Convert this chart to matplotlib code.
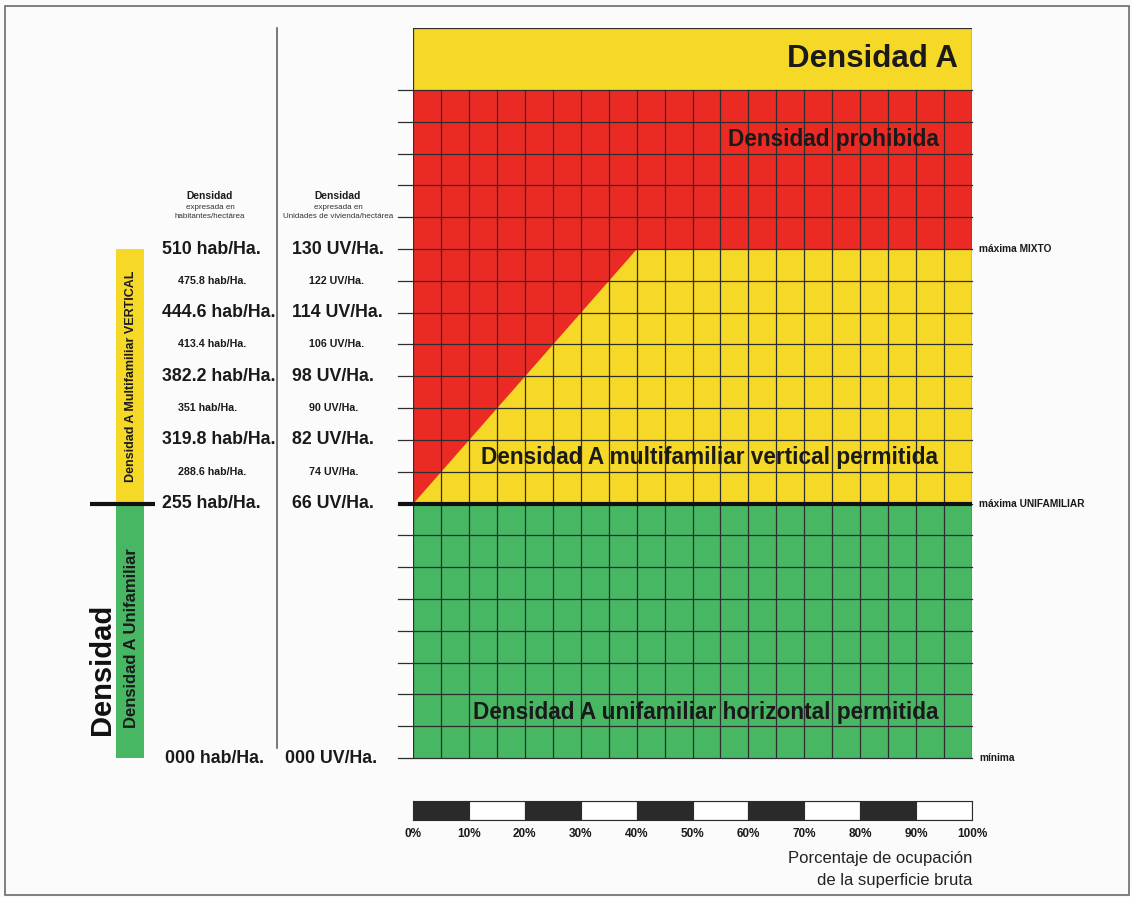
import numpy as np
import matplotlib.pyplot as plt
from matplotlib.lines import Line2D
from matplotlib.patches import Rectangle
from matplotlib import transforms

# --- datos -----------------------------------------------------------------
pct_ticks = np.arange(0, 101, 10)          # escala de ocupación
col_edges = np.arange(0, 101, 5)           # columnas de la retícula
uv_levels = [130, 122, 114, 106, 98, 90, 82, 74, 66]
hab_levels = [510, 475.8, 444.6, 413.4, 382.2, 351, 319.8, 288.6, 255]
uv_unifam = 66        # máxima UNIFAMILIAR
uv_mixto = 130        # máxima MIXTO
uv_top = 170          # límite superior de la retícula
pct_break = 40        # ocupación donde se alcanza la máxima MIXTO
unifam_rows = 8       # filas entre 0 y 66 UV/Ha.
uv_step = 8           # UV/Ha. por fila sobre 66

W, H = 1132, 897
yellow = '#f6d827'
red = '#eb2a24'
green = '#47b764'
grid_c = '#2e2e2e'
ink = '#1a1a1a'
plt.rcParams['font.family'] = ['Liberation Sans', 'DejaVu Sans']


def fwd(v):
    v = np.asarray(v, dtype=float)
    return np.where(v <= uv_unifam, v * unifam_rows / uv_unifam,
                    unifam_rows + (v - uv_unifam) / uv_step)


def inv(r):
    r = np.asarray(r, dtype=float)
    return np.where(r <= unifam_rows, r * uv_unifam / unifam_rows,
                    uv_unifam + (r - unifam_rows) * uv_step)


def fx(x):
    return x / W


def fy(y):
    return 1 - y / H


fig = plt.figure(figsize=(W / 100, H / 100), dpi=100)
fig.patch.set_facecolor('#fbfbfb')
fig.add_artist(Rectangle((fx(5), fy(895)), fx(1129) - fx(5), fy(6) - fy(895),
                         transform=fig.transFigure, fill=False,
                         edgecolor='#6a6a6a', lw=1.2))

ax = fig.add_axes([fx(413), fy(758), fx(972) - fx(413), fy(28) - fy(758)])
ax.set_yscale('function', functions=(fwd, inv))
header_top = float(inv(fwd(uv_top) + 1.95))
ax.set_xlim(0, 100)
ax.set_ylim(0, header_top)
ax.axis('off')

# zonas
ax.fill([0, 100, 100, 0], [0, 0, uv_unifam, uv_unifam], color=green, lw=0)
ax.fill([0, pct_break, 100, 100], [uv_unifam, uv_mixto, uv_mixto, uv_unifam],
        color=yellow, lw=0)
ax.fill([0, 0, 100, 100, pct_break],
        [uv_unifam, uv_top, uv_top, uv_mixto, uv_mixto], color=red, lw=0)
ax.fill([0, 100, 100, 0], [uv_top, uv_top, header_top, header_top],
        color=yellow, lw=0)
ax.plot([0, 0, 100, 100], [uv_top, header_top, header_top, uv_top],
        color=grid_c, lw=0.9)

# retícula
rows = np.concatenate([np.linspace(0, uv_unifam, unifam_rows + 1),
                       np.arange(uv_unifam + uv_step, uv_top + 1, uv_step)])
for x in col_edges:
    ax.plot([x, x], [0, uv_top], color=grid_c, lw=0.9)
for y in rows:
    ax.plot([-2.7, 100], [y, y], color=grid_c, lw=0.9, clip_on=False)
ax.plot([-2.7, 100], [uv_unifam, uv_unifam], color='#111111', lw=3,
        clip_on=False, solid_capstyle='butt')

# textos dentro de la retícula
ax.text(97.5, (uv_top + header_top) / 2, 'Densidad A', ha='right', va='center',
        fontsize=22.5, fontweight='bold', color=ink)
ax.text(94, 157.5, 'Densidad prohibida', ha='right', va='center',
        fontsize=16.3, fontweight='bold', color=ink)
ax.text(94, 77.5, 'Densidad A multifamiliar vertical permitida', ha='right',
        va='center', fontsize=16.3, fontweight='bold', color=ink)
ax.text(94, 11.9, 'Densidad A unifamiliar horizontal permitida', ha='right',
        va='center', fontsize=16.3, fontweight='bold', color=ink)

# etiquetas a la derecha
for y, lab in [(uv_mixto, 'máxima MIXTO'), (uv_unifam, 'máxima UNIFAMILIAR'),
               (0, 'mínima')]:
    ax.text(101.3, y, lab, ha='left', va='center', fontsize=7.3,
            fontweight='bold', color=ink, clip_on=False)

# columna izquierda (x en figura, y en datos)
blend = transforms.blended_transform_factory(fig.transFigure, ax.transData)
for i, (uv, hab) in enumerate(zip(uv_levels, hab_levels)):
    big = i % 2 == 0
    fs = 12.8 if big else 7.7
    ax.text(fx(162 if big else 178), uv, f'{hab:g} hab/Ha.', transform=blend,
            ha='left', va='center', fontsize=fs, fontweight='bold', color=ink)
    ax.text(fx(292 if big else 309), uv, f'{uv:g} UV/Ha.', transform=blend,
            ha='left', va='center', fontsize=fs, fontweight='bold', color=ink)
ax.text(fx(165), 0, '000 hab/Ha.', transform=blend, ha='left', va='center',
        fontsize=12.8, fontweight='bold', color=ink)
ax.text(fx(285), 0, '000 UV/Ha.', transform=blend, ha='left', va='center',
        fontsize=12.8, fontweight='bold', color=ink)

# encabezados de columnas
for x, sub in [(210, 'habitantes/hectárea'), (338, 'Unidades de vivienda/hectárea')]:
    fig.text(fx(x), fy(196), 'Densidad', ha='center', va='center', fontsize=7.4,
             fontweight='bold', color=ink)
    fig.text(fx(x), fy(207), 'expresada en', ha='center', va='center',
             fontsize=5.8, color='#333333')
    fig.text(fx(x), fy(217), sub, ha='center', va='center',
             fontsize=5.8, color='#333333')

# separador vertical
fig.add_artist(Line2D([fx(277), fx(277)], [fy(28), fy(748)],
                      transform=fig.transFigure, color='#555555', lw=1.1))

# barras de la izquierda
ax.add_patch(Rectangle((fx(116), uv_unifam), fx(144) - fx(116),
                       uv_mixto - uv_unifam, transform=blend, color=yellow,
                       lw=0, clip_on=False))
ax.add_patch(Rectangle((fx(116), 0), fx(144) - fx(116), uv_unifam,
                       transform=blend, color=green, lw=0, clip_on=False))
ax.plot([fx(90), fx(155)], [uv_unifam, uv_unifam], transform=blend,
        color='#111111', lw=3, clip_on=False, solid_capstyle='butt')
ax.text(fx(131), (uv_unifam + uv_mixto) / 2, 'Densidad A Multifamiliar VERTICAL',
        transform=blend, rotation=90, ha='center', va='center', fontsize=9,
        fontweight='bold', color=ink)
ax.text(fx(131), 31, 'Densidad A Unifamiliar', transform=blend, rotation=90,
        ha='center', va='center', fontsize=12, fontweight='bold', color=ink)
fig.text(fx(102), fy(669), 'Densidad', rotation=90, ha='center', va='center',
         fontsize=21, fontweight='bold', color='#111111')

# escala de ocupación
ax2 = fig.add_axes([fx(413), fy(820), fx(972) - fx(413), fy(801) - fy(820)])
segs = pct_ticks[:-1]
ax2.bar(segs, 1, width=10, align='edge',
        color=['#2a2a2a' if i % 2 == 0 else 'white' for i in range(len(segs))],
        edgecolor='#2a2a2a', lw=0.8)
ax2.set_xlim(0, 100)
ax2.set_ylim(0, 1)
ax2.set_yticks([])
ax2.set_xticks(pct_ticks)
ax2.set_xticklabels([f'{p}%' for p in pct_ticks], fontsize=8.5,
                    fontweight='bold', color=ink)
ax2.tick_params(axis='x', length=0, pad=6)
for s in ax2.spines.values():
    s.set_color('#2a2a2a')
    s.set_linewidth(0.8)

fig.text(fx(972), fy(858), 'Porcentaje de ocupación', ha='right', va='center',
         fontsize=12, color='#222222')
fig.text(fx(972), fy(880), 'de la superficie bruta', ha='right', va='center',
         fontsize=12, color='#222222')

fig.savefig('out.png', dpi=100, facecolor=fig.get_facecolor())
